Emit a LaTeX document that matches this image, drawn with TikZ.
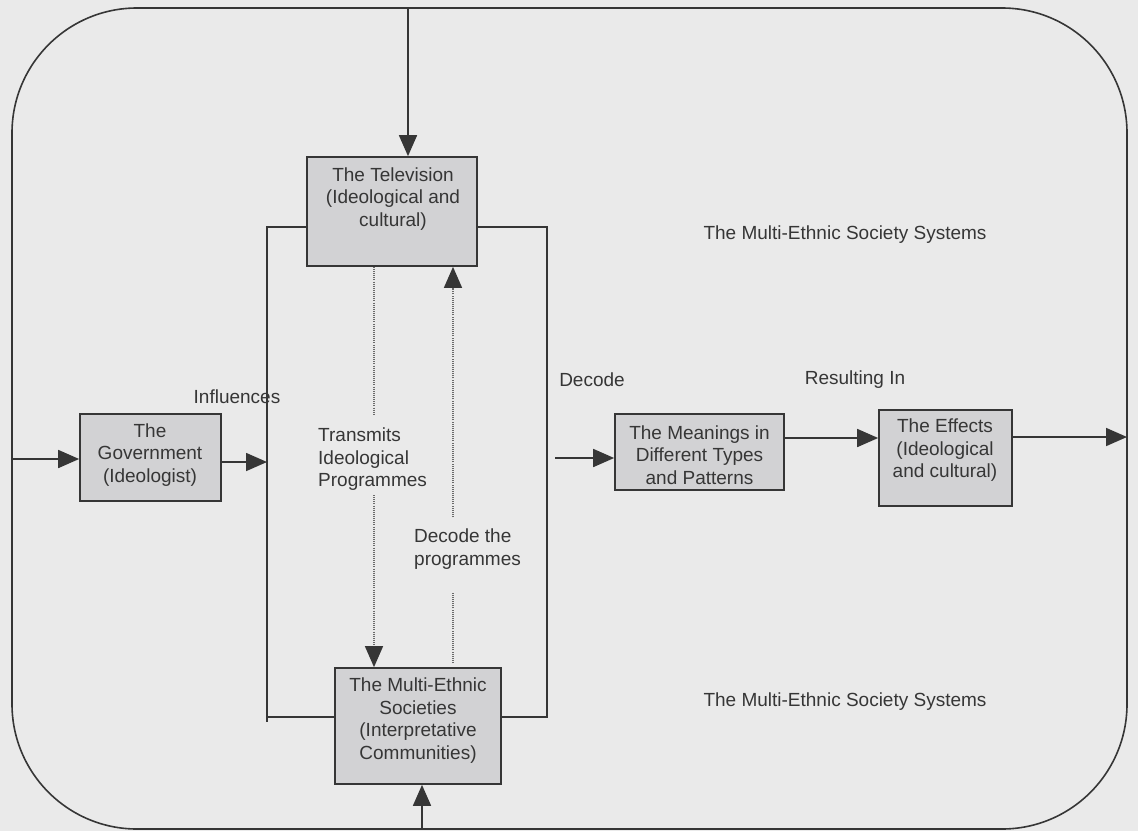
\documentclass[tikz,border=0pt]{standalone}
\usepackage{fontspec}
\setmainfont{Liberation Sans}
\usetikzlibrary{arrows.meta}
\definecolor{bg}{HTML}{EAEAEA}
\definecolor{ink}{HTML}{363636}
\definecolor{boxfill}{HTML}{D2D2D4}
\definecolor{dotc}{HTML}{6A6A6A}
\tikzset{
  box/.style={draw=ink, fill=boxfill, line width=1.7pt, inner sep=0pt},
  txt/.style={text=ink, font=\fontsize{19}{22.5}\selectfont, align=center, inner sep=0pt},
  ltxt/.style={txt, align=left, anchor=west},
  conn/.style={draw=ink, line width=1.7pt},
  arr/.style={conn, -{Triangle[length=21pt,width=18pt]}},
  dotline/.style={draw=dotc, line width=1.4pt, dash pattern=on 1pt off 1.1pt},
  dotarr/.style={dotline, -{Triangle[length=21pt,width=18pt,color=ink,fill=ink]}},
  outer/.style={draw=ink, line width=1.6pt, rounded corners=125pt}
}
\begin{document}
\begin{tikzpicture}[x=1pt,y=-1pt]
\useasboundingbox (0,0) rectangle (1138,831);
\fill[bg] (0,0) rectangle (1138,831);

% outer frame
\draw[outer] (12,8) rectangle (1127,829);

% boxes
\node[box, minimum width=170pt, minimum height=109pt] (tv) at (392,211.5) {};
\node[box, minimum width=141pt, minimum height=87pt] (gov) at (150.5,457.5) {};
\node[box, minimum width=166pt, minimum height=116pt] (mes) at (418,726) {};
\node[box, minimum width=169pt, minimum height=76pt] (mean) at (699.5,452) {};
\node[box, minimum width=133pt, minimum height=96pt] (eff) at (945.5,458) {};

% box texts
\node[txt] (tvt) at (393,199) {The Television\\(Ideological and\\cultural)};
\node[txt] (govt) at (150,455) {The\\Government\\(Ideologist)};
\node[txt] (mest) at (418,720.5) {The Multi-Ethnic\\Societies\\(Interpretative\\Communities)};
\node[txt] (meant) at (699.5,455) {The Meanings in\\Different Types\\and Patterns};
\node[txt] (efft) at (945,450.5) {The Effects\\(Ideological\\and cultural)};

% labels
\node[txt] (sys1) at (845,235) {The Multi-Ethnic Society Systems};
\node[txt] (sys2) at (845,702) {The Multi-Ethnic Society Systems};
\node[txt] (infl) at (237,397) {Influences};
\node[txt] (decl) at (592,380) {Decode};
\node[txt] (resl) at (855,380) {Resulting In};
\node[ltxt] (trans) at (318,459.5) {Transmits\\Ideological\\Programmes};
\node[ltxt] (decp) at (414,549) {Decode the\\programmes};

% coordinates
\coordinate (topin) at (408,8);
\coordinate (botin) at (422,829);
\coordinate (lin) at (12,459);
\coordinate (fl) at (267,462);
\coordinate (fTL) at (267,227);
\coordinate (fTR) at (547,227);
\coordinate (fBL) at (267,717);
\coordinate (fBLx) at (267,722);
\coordinate (fBR) at (547,717);
\coordinate (dec) at (555,458);
\coordinate (m1) at (0,438);
\coordinate (e1) at (0,437);
\coordinate (rin) at (1127,437);
\coordinate (d1a) at (374,415);
\coordinate (d1b) at (374,495);
\coordinate (d2a) at (453,663);
\coordinate (d2b) at (453,593);
\coordinate (d2c) at (453,517);

% solid connectors
\draw[arr] (topin) -- (topin |- tv.north);
\draw[arr] (botin) -- (botin |- mes.south);
\draw[arr] (lin) -- (lin -| gov.west);
\draw[arr] (fl -| gov.east) -- (fl);
\draw[conn] (fTL -| tv.west) -- (fTL) -- (fBLx);
\draw[conn] (fBL) -- (fBL -| mes.west);
\draw[conn] (fTR -| tv.east) -- (fTR) -- (fBR) -- (fBR -| mes.east);
\draw[arr] (dec) -- (dec -| mean.west);
\draw[arr] (m1 -| mean.east) -- (m1 -| eff.west);
\draw[arr] (e1 -| eff.east) -- (rin);

% dotted connectors
\draw[dotline] (d1a |- tv.south) -- (d1a);
\draw[dotarr] (d1b) -- (d1b |- mes.north);
\draw[dotline] (d2a) -- (d2b);
\draw[dotarr] (d2c) -- (d2c |- tv.south);
\end{tikzpicture}
\end{document}
